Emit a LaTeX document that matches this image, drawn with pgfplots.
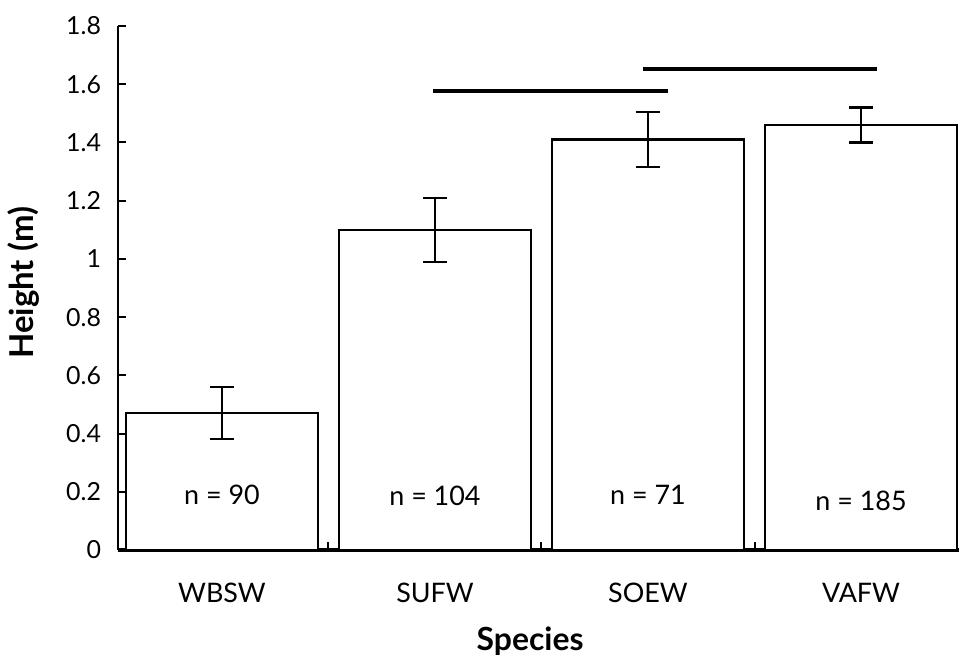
\documentclass[border=0pt]{standalone}
\usepackage{pgfplots}
\pgfplotsset{compat=1.18}
\usepackage{fontspec}
\setmainfont{Lato}
\begin{document}
\begin{tikzpicture}
\useasboundingbox (0,0) rectangle (479.5bp,327.5bp);
\begin{axis}[
  at={(59bp,52.5bp)}, anchor=south west,
  scale only axis, width=420.5bp, height=262bp,
  xmin=-0.488, xmax=3.46, ymin=0, ymax=1.8,
  axis x line=bottom, axis y line=left,
  axis line style={-, line width=1.2bp, black},
  x axis line style={line width=1.6bp},
  ytick={0,0.2,0.4,0.6,0.8,1,1.2,1.4,1.6,1.8},
  /pgf/number format/assume math mode=true,
  yticklabel style={/pgf/number format/fixed, /pgf/number format/precision=1, font=\fontsize{12.5}{14}\selectfont, xshift=-5bp},
  xtick={0.5,1.5,2.5}, xticklabels={},
  tick style={black, line width=1bp},
  major tick length=4bp,
  tick align=inside,
  extra x ticks={0,1,2,3},
  extra x tick labels={WBSW,SUFW,SOEW,VAFW},
  extra x tick style={major tick length=0pt, xticklabel style={yshift=-13bp, font=\fontsize{13.5}{15}\selectfont}},
  xlabel={\textbf{Species}},
  xlabel style={at={(axis description cs:0.49,-0.191)}, anchor=base, font=\fontsize{16}{18}\selectfont},
  ylabel={\textbf{Height (m)}},
  ylabel style={at={(axis description cs:-0.112,0.51)}, anchor=center, font=\fontsize{16.5}{18}\selectfont},
  clip=false,
]
\addplot[ybar, bar width=0.9, fill=white, draw=black, line width=1.25bp,
  error bars/.cd, y dir=both, y explicit,
  error bar style={line width=1.1bp, black},
  error mark options={rotate=90, mark size=6bp, line width=1.1bp, black}]
  coordinates {
  (0,0.47) +- (0,0.09)
  (1,1.10) +- (0,0.11)
  (2,1.41) +- (0,0.095)
  (3,1.46) +- (0,0.06)
};
\addplot[black, line width=2bp, no marks] coordinates {(0.99,1.578) (2.094,1.578)};
\addplot[black, line width=2bp, no marks] coordinates {(1.977,1.652) (3.075,1.652)};
\node[font=\fontsize{13.5}{15}\selectfont] at (axis cs:0,0.19) {n = 90};
\node[font=\fontsize{13.5}{15}\selectfont] at (axis cs:1,0.185) {n = 104};
\node[font=\fontsize{13.5}{15}\selectfont] at (axis cs:2,0.19) {n = 71};
\node[font=\fontsize{13.5}{15}\selectfont] at (axis cs:3,0.17) {n = 185};
\end{axis}
\end{tikzpicture}
\end{document}
